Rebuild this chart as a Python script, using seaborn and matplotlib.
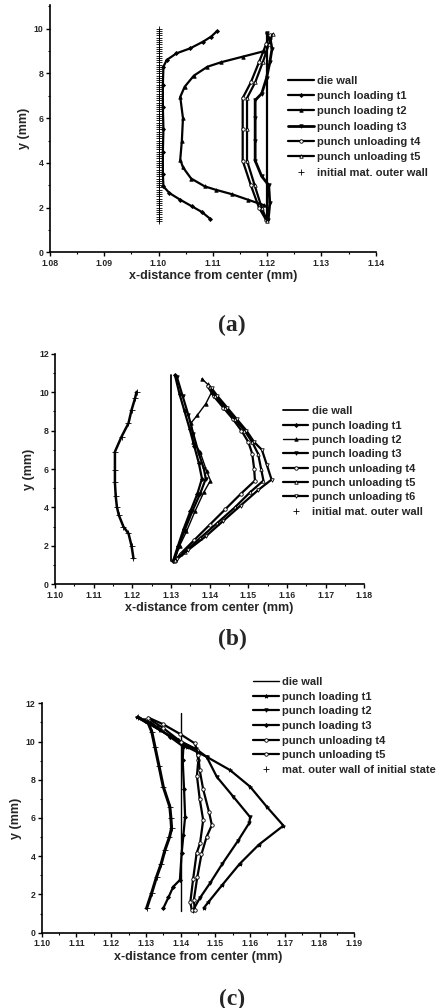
import numpy as np
import pandas as pd
from matplotlib import pyplot as plt
from matplotlib.ticker import MultipleLocator, FormatStrFormatter
import seaborn as sns

sns.set_style("ticks")
plt.rcParams['font.family'] = ['Liberation Sans', 'DejaVu Sans']
plt.rcParams['font.weight'] = 'bold'

# ---- panel (a) data ----
a_die_x = [1.12, 1.12]
a_die_y = [1.4, 9.8]
a_t1_x = [1.1095, 1.108, 1.1062, 1.104, 1.102, 1.1009, 1.1008, 1.1008, 1.1009, 1.1008, 1.1008, 1.1009, 1.1015, 1.1033, 1.1058, 1.1082, 1.1097, 1.1108]
a_t1_y = [1.5, 1.8, 2.05, 2.35, 2.65, 2.95, 3.5, 4.5, 5.5, 6.5, 7.5, 8.3, 8.6, 8.9, 9.12, 9.42, 9.65, 9.9]
a_t2_x = [1.1195, 1.1165, 1.1135, 1.1105, 1.1085, 1.106, 1.1045, 1.104, 1.1043, 1.1045, 1.104, 1.1048, 1.1065, 1.109, 1.1115, 1.1155, 1.1195]
a_t2_y = [2.1, 2.35, 2.6, 2.8, 2.95, 3.3, 3.8, 4.15, 5.0, 6.0, 6.95, 7.4, 7.9, 8.3, 8.5, 8.75, 9.0]
a_t3_x = [1.1202, 1.1205, 1.1203, 1.119, 1.1178, 1.1178, 1.1178, 1.1178, 1.119, 1.1199, 1.1205, 1.1209, 1.1206, 1.1199]
a_t3_y = [1.45, 2.2, 3.0, 3.4, 4.1, 5.0, 6.0, 6.8, 7.1, 7.8, 8.5, 9.1, 9.5, 9.8]
a_t4_x = [1.1198, 1.1185, 1.117, 1.1155, 1.1155, 1.1155, 1.117, 1.1185, 1.1198, 1.1205]
a_t4_y = [1.45, 2.0, 3.0, 4.1, 5.5, 6.9, 7.6, 8.5, 9.3, 9.7]
a_t5_x = [1.12, 1.119, 1.1177, 1.1163, 1.1163, 1.1163, 1.1178, 1.1192, 1.1203, 1.121]
a_t5_y = [1.4, 2.0, 3.0, 4.1, 5.5, 6.9, 7.6, 8.5, 9.3, 9.75]
a_init_y = [1.4, 1.5, 1.6, 1.7, 1.8, 1.9, 2.0, 2.1, 2.2, 2.3, 2.4, 2.5, 2.6, 2.7, 2.8,
            2.9, 3.0, 3.1, 3.2, 3.3, 3.4, 3.5, 3.6, 3.7, 3.8, 3.9, 4.0, 4.1, 4.2, 4.3,
            4.4, 4.5, 4.6, 4.7, 4.8, 4.9, 5.0, 5.1, 5.2, 5.3, 5.4, 5.5, 5.6, 5.7, 5.8,
            5.9, 6.0, 6.1, 6.2, 6.3, 6.4, 6.5, 6.6, 6.7, 6.8, 6.9, 7.0, 7.1, 7.2, 7.3,
            7.4, 7.5, 7.6, 7.7, 7.8, 7.9, 8.0, 8.1, 8.2, 8.3, 8.4, 8.5, 8.6, 8.7, 8.8,
            8.9, 9.0, 9.1, 9.2, 9.3, 9.4, 9.5, 9.6, 9.7, 9.8, 9.9, 10.0]
a_init_x = [1.10] * len(a_init_y)

# ---- panel (b) data ----
b_die_x = [1.13, 1.13]
b_die_y = [1.2, 10.9]
b_t1_x = [1.131, 1.1322, 1.1335, 1.1348, 1.136, 1.1372, 1.138, 1.1368, 1.135, 1.1333, 1.1318, 1.1305]
b_t1_y = [10.9, 9.9, 9.0, 8.1, 7.2, 6.3, 5.5, 4.7, 3.8, 2.9, 2.0, 1.2]
b_t2_x = [1.138, 1.1395, 1.1405, 1.139, 1.1368, 1.1352, 1.1358, 1.1375, 1.1392, 1.1402, 1.1385, 1.1362, 1.134, 1.1322, 1.131]
b_t2_y = [10.7, 10.4, 10.0, 9.4, 8.8, 8.4, 7.4, 6.9, 5.9, 5.4, 4.8, 3.8, 2.75, 2.0, 1.3]
b_t3_x = [1.1315, 1.133, 1.1345, 1.1358, 1.1372, 1.1385, 1.139, 1.1375, 1.1355, 1.1335, 1.1318, 1.1308]
b_t3_y = [10.8, 9.8, 8.8, 7.8, 6.8, 6.0, 5.5, 4.7, 3.8, 2.8, 1.9, 1.2]
b_t4_x = [1.1395, 1.141, 1.1435, 1.146, 1.1482, 1.15, 1.151, 1.1515, 1.1517, 1.148, 1.144, 1.14, 1.136, 1.1325, 1.131]
b_t4_y = [10.3, 9.8, 9.2, 8.6, 8.0, 7.4, 6.8, 6.0, 5.4, 4.7, 3.9, 3.1, 2.3, 1.6, 1.2]
b_t5_x = [1.14, 1.1415, 1.144, 1.1465, 1.149, 1.151, 1.1525, 1.1533, 1.1539, 1.1505, 1.1465, 1.142, 1.1375, 1.1335, 1.131]
b_t5_y = [10.25, 9.8, 9.2, 8.6, 8.0, 7.4, 6.8, 6.0, 5.4, 4.8, 4.0, 3.2, 2.4, 1.7, 1.25]
b_t6_x = [1.1405, 1.142, 1.1445, 1.147, 1.1495, 1.1515, 1.1535, 1.1548, 1.156, 1.1525, 1.148, 1.1435, 1.139, 1.1345, 1.1315]
b_t6_y = [10.2, 9.8, 9.2, 8.6, 8.0, 7.4, 7.0, 6.2, 5.45, 4.9, 4.1, 3.3, 2.5, 1.8, 1.3]
b_init_x = [1.1203, 1.1198, 1.119, 1.1177, 1.1165, 1.116, 1.1157, 1.1155, 1.1155, 1.1155, 1.1172, 1.119, 1.1198, 1.1207, 1.1211]
b_init_y = [1.35, 2.0, 2.65, 3.0, 3.6, 4.04, 4.6, 5.3, 5.95, 6.9, 7.68, 8.38, 9.07, 9.68, 10.02]

# ---- panel (c) data ----
c_die_x = [1.14, 1.14]
c_die_y = [1.15, 11.5]
c_t1_x = [1.1467, 1.148, 1.152, 1.157, 1.1625, 1.1696, 1.1648, 1.16, 1.1542, 1.1475, 1.1417, 1.1341, 1.1274]
c_t1_y = [1.3, 1.6, 2.5, 3.6, 4.6, 5.6, 6.59, 7.64, 8.51, 9.2, 9.73, 10.6, 11.27]
c_t2_x = [1.1435, 1.1455, 1.1485, 1.152, 1.1565, 1.1598, 1.16, 1.1552, 1.1504, 1.1475, 1.1445, 1.139, 1.134, 1.1295]
c_t2_y = [1.15, 1.8, 2.6, 3.6, 4.8, 5.75, 6.05, 7.11, 8.16, 9.2, 9.6, 10.1, 10.6, 11.1]
c_t3_x = [1.135, 1.1365, 1.1379, 1.1398, 1.1403, 1.1408, 1.1413, 1.141, 1.1406, 1.1408, 1.1369, 1.1331, 1.1307]
c_t3_y = [1.27, 1.85, 2.41, 2.76, 4.15, 5.1, 6.07, 7.5, 9.03, 9.73, 10.25, 10.77, 11.1]
c_t4_x = [1.1432, 1.1428, 1.1436, 1.1446, 1.1456, 1.1465, 1.1455, 1.1447, 1.1451, 1.1446, 1.14, 1.135, 1.1308]
c_t4_y = [1.2, 1.6, 2.8, 4.15, 4.68, 5.89, 7.0, 8.2, 9.03, 9.55, 10.0, 10.7, 11.2]
c_t5_x = [1.1441, 1.1438, 1.1448, 1.146, 1.1475, 1.149, 1.1482, 1.1465, 1.1455, 1.1451, 1.1441, 1.1398, 1.135, 1.1307]
c_t5_y = [1.19, 1.7, 2.9, 4.1, 5.02, 5.63, 6.3, 7.5, 8.5, 9.29, 9.9, 10.4, 10.9, 11.25]
c_init_x = [1.1302, 1.1317, 1.1331, 1.1344, 1.1355, 1.1368, 1.1374, 1.1372, 1.1369, 1.135, 1.1338, 1.1326, 1.1317, 1.1307, 1.1278]
c_init_y = [1.27, 2.1, 2.93, 3.6, 4.33, 5.0, 5.46, 6.0, 6.59, 7.64, 8.7, 9.73, 10.51, 10.95, 11.27]


def curve(ax, x, y, marker=None, label=None, lw=1.6, ms=3, mfc='black', ls='-'):
    sns.lineplot(x=x, y=y, ax=ax, sort=False, estimator=None, color='black',
                 marker=marker, markersize=ms, markerfacecolor=mfc,
                 markeredgecolor='black', markeredgewidth=0.6,
                 linewidth=lw, linestyle=ls, label=label)


def style_axes(ax, xlim, xmajor, ylim):
    ax.set_xlim(*xlim)
    ax.set_ylim(*ylim)
    ax.xaxis.set_major_locator(MultipleLocator(xmajor))
    ax.xaxis.set_minor_locator(MultipleLocator(xmajor / 2))
    ax.xaxis.set_major_formatter(FormatStrFormatter('%.2f'))
    ax.yaxis.set_major_locator(MultipleLocator(2))
    ax.yaxis.set_minor_locator(MultipleLocator(1))
    for s in ['top', 'right']:
        ax.spines[s].set_visible(False)
    for s in ['left', 'bottom']:
        ax.spines[s].set_linewidth(1.2)
        ax.spines[s].set_color('black')
    ax.tick_params(which='major', length=3, width=1, labelsize=6.3, pad=1.5, color='black')
    ax.tick_params(which='minor', length=1.5, width=0.8, color='black')
    ax.set_xlabel('x-distance from center (mm)', fontsize=9, fontweight='bold', labelpad=2)
    ax.set_ylabel('y (mm)', fontsize=9, fontweight='bold', labelpad=3)


def legend(ax, x, y, fig, spacing):
    ax.legend(loc='upper left', bbox_to_anchor=(x, y), bbox_transform=fig.transFigure,
              frameon=False, borderpad=0, borderaxespad=0, fontsize=8,
              handlelength=2.3, handletextpad=0.3, labelspacing=spacing, markerscale=1.0)


fig = plt.figure(figsize=(4.42, 10.08), dpi=100)

# (a)
ax = fig.add_axes([0.113, 0.7497, 0.737, 0.2453])
curve(ax, a_die_x, a_die_y, label='die wall', lw=1.6)
curve(ax, a_t1_x, a_t1_y, marker='D', ms=2, label='punch loading t1')
curve(ax, a_t2_x, a_t2_y, marker='^', ms=2.5, label='punch loading t2')
curve(ax, a_t3_x, a_t3_y, marker='v', ms=2.5, lw=2.0, label='punch loading t3')
curve(ax, a_t4_x, a_t4_y, marker='o', ms=2.5, mfc='white', label='punch unloading t4')
curve(ax, a_t5_x, a_t5_y, marker='^', ms=2.5, mfc='white', label='punch unloading t5')
curve(ax, a_init_x, a_init_y, marker='+', ms=4, ls='', label='initial mat. outer wall')
style_axes(ax, (1.08, 1.14), 0.01, (0, 11.06))
legend(ax, 0.652, 0.925, fig, 0.48)

# (b)
ax = fig.add_axes([0.1244, 0.4203, 0.700, 0.2288])
curve(ax, b_die_x, b_die_y, label='die wall', lw=1.3)
curve(ax, b_t1_x, b_t1_y, marker='D', ms=2, label='punch loading t1')
curve(ax, b_t2_x, b_t2_y, marker='^', ms=2.5, lw=1.0, label='punch loading t2')
curve(ax, b_t3_x, b_t3_y, marker='v', ms=2.5, label='punch loading t3')
curve(ax, b_t4_x, b_t4_y, marker='o', ms=2.5, mfc='white', label='punch unloading t4')
curve(ax, b_t5_x, b_t5_y, marker='^', ms=2.5, mfc='white', label='punch unloading t5')
curve(ax, b_t6_x, b_t6_y, marker='v', ms=2.5, mfc='white', label='punch unloading t6')
curve(ax, b_init_x, b_init_y, lw=1.8, label='_nolegend_')
curve(ax, b_init_x, b_init_y, marker='+', ms=4, ls='', label='initial mat. outer wall')
style_axes(ax, (1.10, 1.18), 0.01, (0, 12))
legend(ax, 0.640, 0.597, fig, 0.39)

# (c)
ax = fig.add_axes([0.0943, 0.0747, 0.7072, 0.2276])
curve(ax, c_die_x, c_die_y, label='die wall', lw=1.0)
curve(ax, c_t1_x, c_t1_y, marker='*', ms=3, label='punch loading t1')
curve(ax, c_t2_x, c_t2_y, marker='v', ms=2.5, label='punch loading t2')
curve(ax, c_t3_x, c_t3_y, marker='D', ms=2, label='punch loading t3')
curve(ax, c_t4_x, c_t4_y, marker='o', ms=2.5, mfc='white', label='punch unloading t4')
curve(ax, c_t5_x, c_t5_y, marker='o', ms=2.5, mfc='white', label='punch unloading t5')
curve(ax, c_init_x, c_init_y, lw=2.2, label='_nolegend_')
curve(ax, c_init_x, c_init_y, marker='+', ms=4, ls='', label='mat. outer wall of initial state')
style_axes(ax, (1.10, 1.19), 0.01, (0, 12))
legend(ax, 0.5724, 0.3285, fig, 0.42)

# captions
for txt, yy in [('(a)', 1 - 325 / 1008), ('(b)', 1 - 639 / 1008), ('(c)', 1 - 999 / 1008)]:
    fig.text(0.525, yy, txt, ha='center', va='center', fontsize=17, fontweight='bold',
             family=['Liberation Serif', 'DejaVu Serif'])

plt.savefig('out.png', dpi=100)
